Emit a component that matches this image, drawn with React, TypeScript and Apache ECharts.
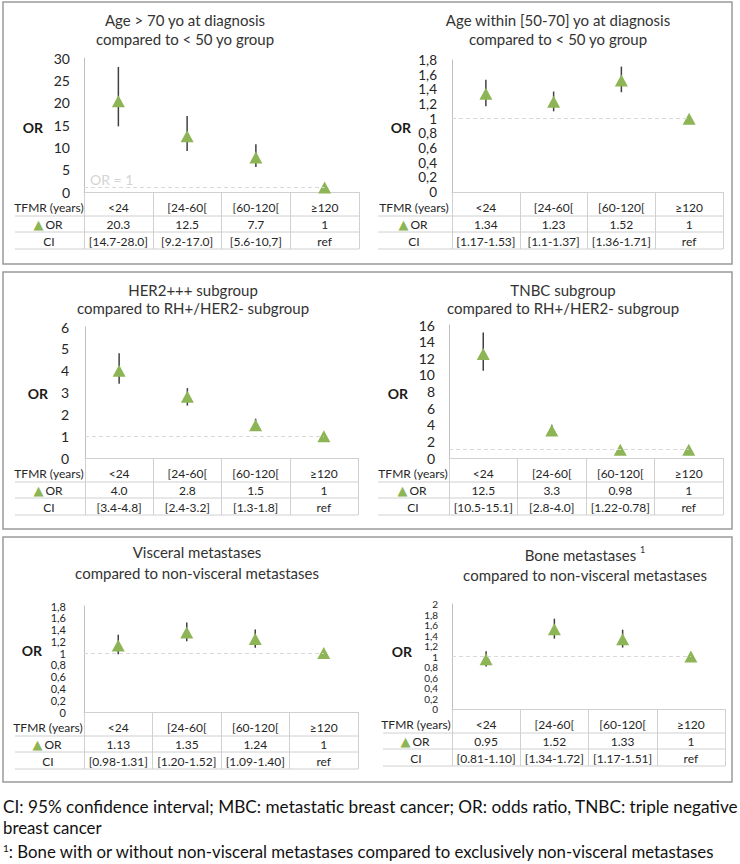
import React, { useEffect, useRef } from 'react';
import * as echarts from 'echarts';

// ---------- data ----------
const categories = ['<24', '[24-60[', '[60-120[', '≥120'];
const rowLabelTFMR = 'TFMR (years)';
const rowLabelOR = 'OR';
const rowLabelCI = 'CI';

const ageOver70OR = [20.3, 12.5, 7.7, 1];
const ageOver70Low = [14.7, 9.2, 5.6, null];
const ageOver70High = [28.0, 17.0, 10.7, null];
const ageOver70ORText = ['20.3', '12.5', '7.7', '1'];
const ageOver70CIText = ['[14.7-28.0]', '[9.2-17.0]', '[5.6-10,7]', 'ref'];

const age5070OR = [1.34, 1.23, 1.52, 1];
const age5070Low = [1.17, 1.1, 1.36, null];
const age5070High = [1.53, 1.37, 1.71, null];
const age5070ORText = ['1.34', '1.23', '1.52', '1'];
const age5070CIText = ['[1.17-1.53]', '[1.1-1.37]', '[1.36-1.71]', 'ref'];

const her2OR = [4.0, 2.8, 1.5, 1];
const her2Low = [3.4, 2.4, 1.3, null];
const her2High = [4.8, 3.2, 1.8, null];
const her2ORText = ['4.0', '2.8', '1.5', '1'];
const her2CIText = ['[3.4-4.8]', '[2.4-3.2]', '[1.3-1.8]', 'ref'];

const tnbcOR = [12.5, 3.3, 0.98, 1];
const tnbcLow = [10.5, 2.8, 0.78, null];
const tnbcHigh = [15.1, 4.0, 1.22, null];
const tnbcORText = ['12.5', '3.3', '0.98', '1'];
const tnbcCIText = ['[10.5-15.1]', '[2.8-4.0]', '[1.22-0.78]', 'ref'];

const visceralOR = [1.13, 1.35, 1.24, 1];
const visceralLow = [0.98, 1.2, 1.09, null];
const visceralHigh = [1.31, 1.52, 1.4, null];
const visceralORText = ['1.13', '1.35', '1.24', '1'];
const visceralCIText = ['[0.98-1.31]', '[1.20-1.52]', '[1.09-1.40]', 'ref'];

const boneOR = [0.95, 1.52, 1.33, 1];
const boneLow = [0.81, 1.34, 1.17, null];
const boneHigh = [1.1, 1.72, 1.51, null];
const boneORText = ['0.95', '1.52', '1.33', '1'];
const boneCIText = ['[0.81-1.10]', '[1.34-1.72]', '[1.17-1.51]', 'ref'];

const yMax = [30, 1.8, 6, 16, 1.8, 2];
const yInterval = [5, 0.2, 1, 2, 0.2, 0.2];

const titles = [
  'Age > 70 yo at diagnosis\ncompared to < 50 yo group',
  'Age within [50-70] yo at diagnosis\ncompared to < 50 yo group',
  'HER2+++ subgroup\ncompared to RH+/HER2- subgroup',
  'TNBC subgroup\ncompared to RH+/HER2- subgroup',
  'Visceral metastases\ncompared to non-visceral metastases',
  'Bone metastases {sup|1}\ncompared to non-visceral metastases',
];

const footLine1 =
  'CI: 95% confidence interval; MBC: metastatic breast cancer; OR: odds ratio, TNBC: triple negative';
const footLine2 = 'breast cancer';
const footLine3 = ': Bone with or without non-visceral metastases compared to exclusively non-visceral metastases';

const panelsData = [
  { or: ageOver70OR, low: ageOver70Low, high: ageOver70High, orText: ageOver70ORText, ciText: ageOver70CIText, refLabel: 'OR = 1' },
  { or: age5070OR, low: age5070Low, high: age5070High, orText: age5070ORText, ciText: age5070CIText, refLabel: '' },
  { or: her2OR, low: her2Low, high: her2High, orText: her2ORText, ciText: her2CIText, refLabel: '' },
  { or: tnbcOR, low: tnbcLow, high: tnbcHigh, orText: tnbcORText, ciText: tnbcCIText, refLabel: '' },
  { or: visceralOR, low: visceralLow, high: visceralHigh, orText: visceralORText, ciText: visceralCIText, refLabel: '' },
  { or: boneOR, low: boneLow, high: boneHigh, orText: boneORText, ciText: boneCIText, refLabel: '' },
];

// ---------- layout ----------
const FONT = 'Lato, "Open Sans", sans-serif';
const GREEN = '#8DB555';
const TEXT = '#262626';
const TABLE_LINE = '#d0d0d0';

const layouts = [
  { l: 84, r: 359, t: 58, b: 192, labelCx: 49, lineX0: 15, titleCx: 185, titleTop: 10.5, lh: 19, yFont: 14, yLh: 14, yMargin: 14, orX: 43, orY: 127 },
  { l: 452, r: 723, t: 60, b: 192, labelCx: 414, lineX0: 378, titleCx: 558, titleTop: 10.5, lh: 19, yFont: 13.5, yLh: 12, yMargin: 15, orX: 411, orY: 127 },
  { l: 85, r: 358, t: 327, b: 458, labelCx: 49, lineX0: 15, titleCx: 193, titleTop: 281, lh: 18, yFont: 14, yLh: 14, yMargin: 16, orX: 48, orY: 393 },
  { l: 449, r: 723, t: 325, b: 458, labelCx: 413, lineX0: 378, titleCx: 563, titleTop: 281, lh: 18, yFont: 14, yLh: 14, yMargin: 14, orX: 408, orY: 393 },
  { l: 84, r: 358, t: 606, b: 712, labelCx: 48, lineX0: 15, titleCx: 197, titleTop: 541.5, lh: 21, yFont: 11, yLh: 8, yMargin: 18, orX: 42, orY: 650 },
  { l: 452, r: 725, t: 604, b: 709, labelCx: 416, lineX0: 383, titleCx: 585, titleTop: 545, lh: 20, yFont: 10, yLh: 7, yMargin: 14, orX: 412, orY: 651 },
];

const frames = [
  { x: 3, y: 2, w: 729, h: 262 },
  { x: 3, y: 272, w: 729, h: 257 },
  { x: 3, y: 537, w: 729, h: 245 },
];

const commaFmt = (v: number) => String(Math.round(v * 10) / 10).replace('.', ',');

function buildOption() {
  const grid: any[] = [];
  const xAxis: any[] = [];
  const yAxis: any[] = [];
  const series: any[] = [];
  const title: any[] = [];
  const graphic: any[] = [];

  frames.forEach((f) => {
    graphic.push({
      type: 'rect',
      shape: { x: f.x, y: f.y, width: f.w, height: f.h },
      style: { fill: 'none', stroke: '#9a9a9a', lineWidth: 1.5 },
      silent: true,
    });
  });

  layouts.forEach((L, i) => {
    const d = panelsData[i];
    grid.push({ left: L.l, top: L.t, width: L.r - L.l, height: L.b - L.t, containLabel: false });
    xAxis.push({
      type: 'category',
      gridIndex: i,
      data: categories,
      boundaryGap: true,
      axisLine: { show: true, lineStyle: { color: TABLE_LINE, width: 1 } },
      axisTick: { show: true, interval: 0, alignWithLabel: false, length: 57, lineStyle: { color: TABLE_LINE, width: 1 } },
      axisLabel: {
        interval: 0,
        margin: 6.5,
        fontSize: 12,
        lineHeight: 17,
        color: TEXT,
        fontFamily: FONT,
        formatter: (v: string, idx: number) => `${v}\n${d.orText[idx]}\n${d.ciText[idx]}`,
      },
      splitLine: { show: false },
    });
    yAxis.push({
      type: 'value',
      gridIndex: i,
      min: 0,
      max: yMax[i],
      interval: yInterval[i],
      axisLine: { show: true, lineStyle: { color: '#bfbfbf', width: 1 } },
      axisTick: { show: false },
      splitLine: { show: false },
      axisLabel: {
        fontSize: L.yFont,
        lineHeight: L.yLh,
        color: TEXT,
        fontFamily: FONT,
        margin: L.yMargin,
        formatter: commaFmt,
        showMinLabel: true,
        showMaxLabel: true,
        hideOverlap: false,
      },
    });

    const bars = d.low
      .map((lo, k) => (lo == null ? null : [k, lo, d.high[k]]))
      .filter((x) => x != null);
    series.push({
      type: 'custom',
      xAxisIndex: i,
      yAxisIndex: i,
      data: bars,
      encode: { x: 0, y: [1, 2] },
      z: 2,
      silent: true,
      renderItem: (params: any, api: any) => {
        const x = api.value(0);
        const p1 = api.coord([x, api.value(1)]);
        const p2 = api.coord([x, api.value(2)]);
        return {
          type: 'line',
          shape: { x1: p1[0], y1: p1[1], x2: p2[0], y2: p2[1] },
          style: { stroke: '#404040', lineWidth: 1.5 },
        };
      },
    });
    series.push({
      type: 'scatter',
      name: 'OR',
      xAxisIndex: i,
      yAxisIndex: i,
      data: d.or,
      symbol: 'triangle',
      symbolSize: [13, 12],
      itemStyle: { color: GREEN, opacity: 1 },
      z: 3,
      silent: true,
      markLine: {
        silent: true,
        symbol: 'none',
        lineStyle: { color: '#d9d9d9', type: [4, 3], width: 1 },
        label: d.refLabel
          ? {
              show: true,
              position: 'insideStartTop',
              formatter: d.refLabel,
              color: '#d4d4d4',
              fontSize: 14,
              fontFamily: FONT,
              distance: [6, 1],
            }
          : { show: false },
        data: [[{ coord: [0, 1], x: L.l }, { coord: [categories.length - 1, 1] }]],
      },
    });

    title.push({
      text: titles[i],
      left: L.titleCx,
      top: L.titleTop,
      textAlign: 'center',
      padding: 0,
      textStyle: {
        fontSize: 15,
        fontWeight: 'normal',
        color: '#333333',
        fontFamily: FONT,
        lineHeight: L.lh,
        rich: { sup: { fontSize: 9, verticalAlign: 'top', color: '#333333', fontFamily: FONT, lineHeight: L.lh } },
      },
    });

    // OR axis name
    graphic.push({
      type: 'text',
      x: L.orX,
      y: L.orY,
      style: { text: 'OR', align: 'right', verticalAlign: 'middle', fontSize: 14, fontWeight: 'bold', fill: '#1a1a1a', fontFamily: FONT },
      silent: true,
    });

    // table row labels
    const rowYs = [L.b + 15, L.b + 32, L.b + 49];
    graphic.push({
      type: 'text',
      x: L.labelCx,
      y: rowYs[0],
      style: { text: rowLabelTFMR, align: 'center', verticalAlign: 'middle', fontSize: 12, fill: TEXT, fontFamily: FONT },
      silent: true,
    });
    graphic.push({
      type: 'text',
      x: L.labelCx - 1,
      y: rowYs[1],
      style: {
        text: `{tri|▲}${rowLabelOR}`,
        align: 'center',
        verticalAlign: 'middle',
        fontSize: 12,
        fill: TEXT,
        fontFamily: FONT,
        rich: { tri: { fill: GREEN, fontSize: 13, fontFamily: 'DejaVu Sans', padding: [0, 2, 0, 0] } },
      },
      silent: true,
    });
    graphic.push({
      type: 'text',
      x: L.labelCx,
      y: rowYs[2],
      style: { text: rowLabelCI, align: 'center', verticalAlign: 'middle', fontSize: 12, fill: TEXT, fontFamily: FONT },
      silent: true,
    });
    // table horizontal rules
    [L.b + 24, L.b + 40, L.b + 57].forEach((yy) => {
      graphic.push({
        type: 'line',
        shape: { x1: L.lineX0, y1: yy, x2: L.r, y2: yy },
        style: { stroke: TABLE_LINE, lineWidth: 1 },
        silent: true,
      });
    });
  });

  // footnotes
  const FOOT = 16.8;
  graphic.push({
    type: 'text',
    x: 3,
    y: 806,
    style: { text: footLine1, align: 'left', verticalAlign: 'middle', fontSize: 17.2, fill: '#111', fontFamily: FONT },
    silent: true,
  });
  graphic.push({
    type: 'text',
    x: 3,
    y: 827,
    style: { text: footLine2, align: 'left', verticalAlign: 'middle', fontSize: FOOT, fill: '#111', fontFamily: FONT },
    silent: true,
  });
  graphic.push({
    type: 'text',
    x: 3,
    y: 851,
    style: {
      text: `{sup|1}${footLine3}`,
      align: 'left',
      verticalAlign: 'middle',
      fontSize: FOOT,
      fill: '#111',
      fontFamily: FONT,
      rich: { sup: { fontSize: 10, verticalAlign: 'top', fill: '#111', fontFamily: FONT } },
    },
    silent: true,
  });

  return {
    animation: false,
    backgroundColor: '#ffffff',
    textStyle: { fontFamily: FONT },
    title,
    grid,
    xAxis,
    yAxis,
    series,
    graphic,
  };
}

export default function App() {
  const ref = useRef<HTMLDivElement>(null);
  useEffect(() => {
    if (!ref.current) return;
    const chart = echarts.init(ref.current, undefined, { renderer: 'svg' });
    chart.setOption(buildOption() as any);
    return () => chart.dispose();
  }, []);
  return (
    <div
      ref={ref}
      style={{ position: 'absolute', left: 0, top: 0, width: 740, height: 864, background: '#fff' }}
    />
  );
}
